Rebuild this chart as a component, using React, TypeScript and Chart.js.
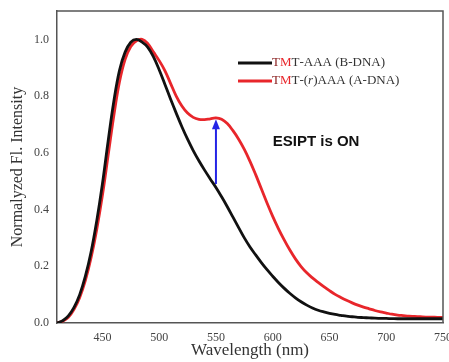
import React, { useEffect, useRef } from "react";
import { Chart, registerables } from "chart.js";

Chart.register(...registerables);

const wavelengths = [
  410, 415, 420, 425, 430, 435, 440, 445, 450, 455, 460, 465, 470, 475, 480, 485, 490, 495, 500, 505,
  510, 515, 520, 525, 530, 535, 540, 545, 550, 555, 560, 565, 570, 575, 580, 585, 590, 595, 600, 605,
  610, 615, 620, 625, 630, 635, 640, 645, 650, 655, 660, 665, 670, 675, 680, 685, 690, 695, 700, 705,
  710, 715, 720, 725, 730, 735, 740, 745, 750,
];
const bDNA = [
  0.0, 0.008, 0.025, 0.055, 0.1, 0.165, 0.25, 0.36, 0.49, 0.64, 0.78, 0.89, 0.955, 0.99, 1.0, 0.99, 0.972, 0.938, 0.893, 0.842,
  0.79, 0.74, 0.692, 0.648, 0.608, 0.572, 0.539, 0.508, 0.478, 0.445, 0.41, 0.373, 0.336, 0.3, 0.268, 0.24, 0.213, 0.188, 0.165, 0.143,
  0.123, 0.105, 0.089, 0.075, 0.063, 0.053, 0.045, 0.039, 0.034, 0.03, 0.027, 0.024, 0.022, 0.02, 0.019, 0.018, 0.017, 0.0165, 0.016, 0.0155,
  0.015, 0.015, 0.015, 0.015, 0.015, 0.015, 0.015, 0.015, 0.015,
];
const aDNA = [
  0.0, 0.006, 0.02, 0.048, 0.09, 0.15, 0.23, 0.33, 0.45, 0.59, 0.73, 0.85, 0.93, 0.975, 0.995, 1.0, 0.985, 0.955, 0.925, 0.89,
  0.845, 0.8, 0.765, 0.74, 0.725, 0.718, 0.717, 0.72, 0.723, 0.718, 0.703, 0.678, 0.648, 0.612, 0.57, 0.523, 0.473, 0.423, 0.376, 0.333,
  0.294, 0.258, 0.226, 0.199, 0.177, 0.159, 0.143, 0.128, 0.114, 0.101, 0.09, 0.08, 0.071, 0.063, 0.056, 0.05, 0.044, 0.039, 0.035, 0.031,
  0.028, 0.026, 0.024, 0.023, 0.022, 0.021, 0.021, 0.02, 0.02,
];

const seriesLabels = [
  { prefix: "TMT", rest: "-AAA (B-DNA)", italic: "" },
  { prefix: "TMT", rest: "AAA (A-DNA)", italic: "-(r)" },
];
const seriesColors = ["#111111", "#e8262b"];
const xTicks = [450, 500, 550, 600, 650, 700, 750];
const yTicks = [0, 0.2, 0.4, 0.6, 0.8, 1.0];

const arrowX = 550;
const arrowFrom = 0.49;
const arrowTo = 0.718;
const noteText = "ESIPT is ON";
const noteX = 600;
const noteY = 0.637;

const SERIF = "'Liberation Serif', 'Times New Roman', serif";

const overlay = {
  id: "overlay",
  afterDatasetsDraw(chart: any) {
    const { ctx, chartArea, scales } = chart;
    const xs = scales.x, ys = scales.y;
    ctx.save();
    // frame top/right
    ctx.strokeStyle = "#555";
    ctx.lineWidth = 1.5;
    ctx.beginPath();
    ctx.moveTo(chartArea.left, chartArea.top);
    ctx.lineTo(chartArea.right, chartArea.top);
    ctx.lineTo(chartArea.right, chartArea.bottom);
    ctx.stroke();

    // arrow
    const ax = xs.getPixelForValue(arrowX);
    const y0 = ys.getPixelForValue(arrowFrom);
    const y1 = ys.getPixelForValue(arrowTo);
    ctx.strokeStyle = "#2424e6";
    ctx.fillStyle = "#2424e6";
    ctx.lineWidth = 2;
    ctx.beginPath();
    ctx.moveTo(ax, y0);
    ctx.lineTo(ax, y1 + 8);
    ctx.stroke();
    ctx.beginPath();
    ctx.moveTo(ax, y1);
    ctx.lineTo(ax - 4, y1 + 10);
    ctx.lineTo(ax + 4, y1 + 10);
    ctx.closePath();
    ctx.fill();

    // note
    ctx.fillStyle = "#111";
    ctx.font = "bold 15px 'Liberation Sans', Arial, sans-serif";
    ctx.textAlign = "left";
    ctx.textBaseline = "middle";
    ctx.fillText(noteText, xs.getPixelForValue(noteX), ys.getPixelForValue(noteY));

    // legend
    const lx0 = 238, lx1 = 272;
    const rows = [63, 81];
    ctx.font = "13px " + SERIF;
    rows.forEach((ry, i) => {
      ctx.strokeStyle = seriesColors[i];
      ctx.lineWidth = 3;
      ctx.beginPath();
      ctx.moveTo(lx0, ry);
      ctx.lineTo(lx1, ry);
      ctx.stroke();
      let tx = lx1;
      const lab = seriesLabels[i];
      const letters = lab.prefix.split("");
      const letterColors = ["#8a2020", "#e8262b", "#333"];
      ctx.font = "13px " + SERIF;
      letters.forEach((ch, k) => {
        ctx.fillStyle = letterColors[k];
        ctx.fillText(ch, tx, ry);
        tx += ctx.measureText(ch).width;
      });
      ctx.fillStyle = "#333";
      if (lab.italic) {
        ctx.fillText("-(", tx, ry);
        tx += ctx.measureText("-(").width;
        ctx.font = "italic 13px " + SERIF;
        ctx.fillText("r", tx, ry);
        tx += ctx.measureText("r").width;
        ctx.font = "13px " + SERIF;
        ctx.fillText(")", tx, ry);
        tx += ctx.measureText(")").width;
      }
      ctx.fillText(lab.rest, tx, ry);
    });
    ctx.restore();
  },
};

export default function App() {
  const ref = useRef<HTMLCanvasElement | null>(null);
  useEffect(() => {
    if (!ref.current) return;
    const chart = new Chart(ref.current, {
      type: "line",
      data: {
        datasets: [bDNA, aDNA].map((vals, i) => ({
          label: seriesLabels[i].prefix + seriesLabels[i].italic + seriesLabels[i].rest,
          data: wavelengths.map((w, k) => ({ x: w, y: vals[k] })),
          borderColor: seriesColors[i],
          borderWidth: 2.8,
          pointRadius: 0,
          tension: 0.4,
          fill: false,
        })),
      },
      options: {
        animation: false,
        responsive: false,
        maintainAspectRatio: false,
        layout: { padding: { top: 11, right: 6, left: 0, bottom: 0 } },
        plugins: { legend: { display: false }, tooltip: { enabled: false } },
        scales: {
          x: {
            type: "linear",
            min: 410,
            max: 750,
            afterBuildTicks(scale: any) {
              scale.ticks = xTicks.map((v) => ({ value: v }));
            },
            afterFit(scale: any) {
              scale.height = 39;
              scale.paddingLeft = 0;
              scale.paddingRight = 0;
            },
            grid: { display: false, drawOnChartArea: false, tickLength: 5, tickColor: "#555", tickWidth: 1.5 },
            border: { display: true, color: "#555", width: 1.5 },
            ticks: {
              padding: 3,
              color: "#444",
              font: { family: SERIF, size: 12 },
              maxRotation: 0,
              autoSkip: false,
            },
            title: {
              display: true,
              text: "Wavelength (nm)",
              color: "#333",
              font: { family: SERIF, size: 17 },
              padding: { top: 0, bottom: 1 },
            },
          },
          y: {
            type: "linear",
            min: 0,
            max: 1.1,
            afterBuildTicks(scale: any) {
              scale.ticks = yTicks.map((v) => ({ value: v }));
            },
            afterFit(scale: any) {
              scale.width = 57;
              scale.paddingTop = 0;
              scale.paddingBottom = 0;
            },
            grid: { display: false, drawOnChartArea: false, tickLength: 6, tickColor: "#555", tickWidth: 1.5 },
            border: { display: true, color: "#555", width: 1.5 },
            ticks: {
              padding: 2,
              color: "#444",
              font: { family: SERIF, size: 12 },
              callback: (v: any) => Number(v).toFixed(1),
            },
            title: {
              display: true,
              text: "Normalyzed Fl. Intensity",
              color: "#333",
              font: { family: SERIF, size: 16 },
              padding: { top: 8, bottom: 0 },
            },
          },
        },
      },
      plugins: [overlay],
    });
    return () => chart.destroy();
  }, []);
  return (
    <div style={{ position: "fixed", left: 0, top: 0, width: 449, height: 362, background: "#fff" }}>
      <canvas ref={ref} width={449} height={362} style={{ display: "block" }} />
    </div>
  );
}
